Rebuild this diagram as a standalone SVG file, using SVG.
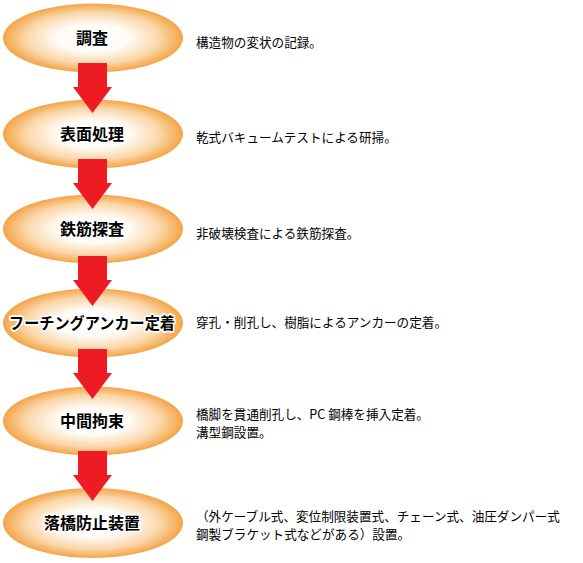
<svg xmlns="http://www.w3.org/2000/svg" width="583" height="563" viewBox="0 0 583 563">
<defs>
<radialGradient id="g" cx="50%" cy="50%" r="50%">
<stop offset="0" stop-color="#ffffff"/>
<stop offset="0.4" stop-color="#fffbf6"/>
<stop offset="0.75" stop-color="#fad6a8"/>
<stop offset="1" stop-color="#f4a446"/>
</radialGradient>
<path id="arr" d="M78,0 H107 V24 H112 L92.5,50 L73,24 H78 Z" fill="#ed1c24"/>
</defs>
<style>
.e{fill:url(#g)}
.t{font-family:"Noto Sans CJK JP","Noto Sans CJK SC",sans-serif;font-weight:bold;font-size:16px;fill:#000;stroke:#fff;stroke-width:3.5px;paint-order:stroke;stroke-linejoin:round;text-anchor:middle}
.d{font-family:"Noto Sans CJK JP","Noto Sans CJK SC",sans-serif;font-size:12.6px;fill:#000}
</style>
<rect width="583" height="563" fill="#fff"/>
<g id="n1"><ellipse class="e" cx="93" cy="38" rx="90" ry="34.5"/><text class="t" x="92" y="44">調査</text></g>
<g id="n2"><ellipse class="e" cx="93" cy="134" rx="90" ry="34.5"/><text class="t" x="92" y="140">表面処理</text></g>
<g id="n3"><ellipse class="e" cx="93" cy="229" rx="90" ry="34.5"/><text class="t" x="92" y="235">鉄筋探査</text></g>
<g id="n4"><ellipse class="e" cx="93" cy="323" rx="90" ry="34.5"/><text class="t" x="92" y="329" textLength="166" lengthAdjust="spacingAndGlyphs">フーチングアンカー定着</text></g>
<g id="n5"><ellipse class="e" cx="93" cy="421" rx="90" ry="34.5"/><text class="t" x="92" y="427">中間拘束</text></g>
<g id="n6"><ellipse class="e" cx="93" cy="523" rx="90" ry="35"/><text class="t" x="92" y="529">落橋防止装置</text></g>
<g id="connectors">
<use href="#arr" y="63"/>
<use href="#arr" y="159"/>
<use href="#arr" y="256"/>
<use href="#arr" y="349"/>
<use href="#arr" y="451"/>
</g>
<g id="labels">
<text class="d" x="196" y="47">構造物の変状の記録。</text>
<text class="d" x="196" y="142">乾式バキュームテストによる研掃。</text>
<text class="d" x="196" y="238">非破壊検査による鉄筋探査。</text>
<text class="d" x="196" y="327">穿孔・削孔し、樹脂によるアンカーの定着。</text>
<text class="d" x="196" y="419">橋脚を貫通削孔し、PC 鋼棒を挿入定着。</text>
<text class="d" x="196" y="437">溝型鋼設置。</text>
<text class="d" x="196" y="521">（外ケーブル式、変位制限装置式、チェーン式、油圧ダンパー式</text>
<text class="d" x="196" y="539">鋼製ブラケット式などがある）設置。</text>
</g>
</svg>
